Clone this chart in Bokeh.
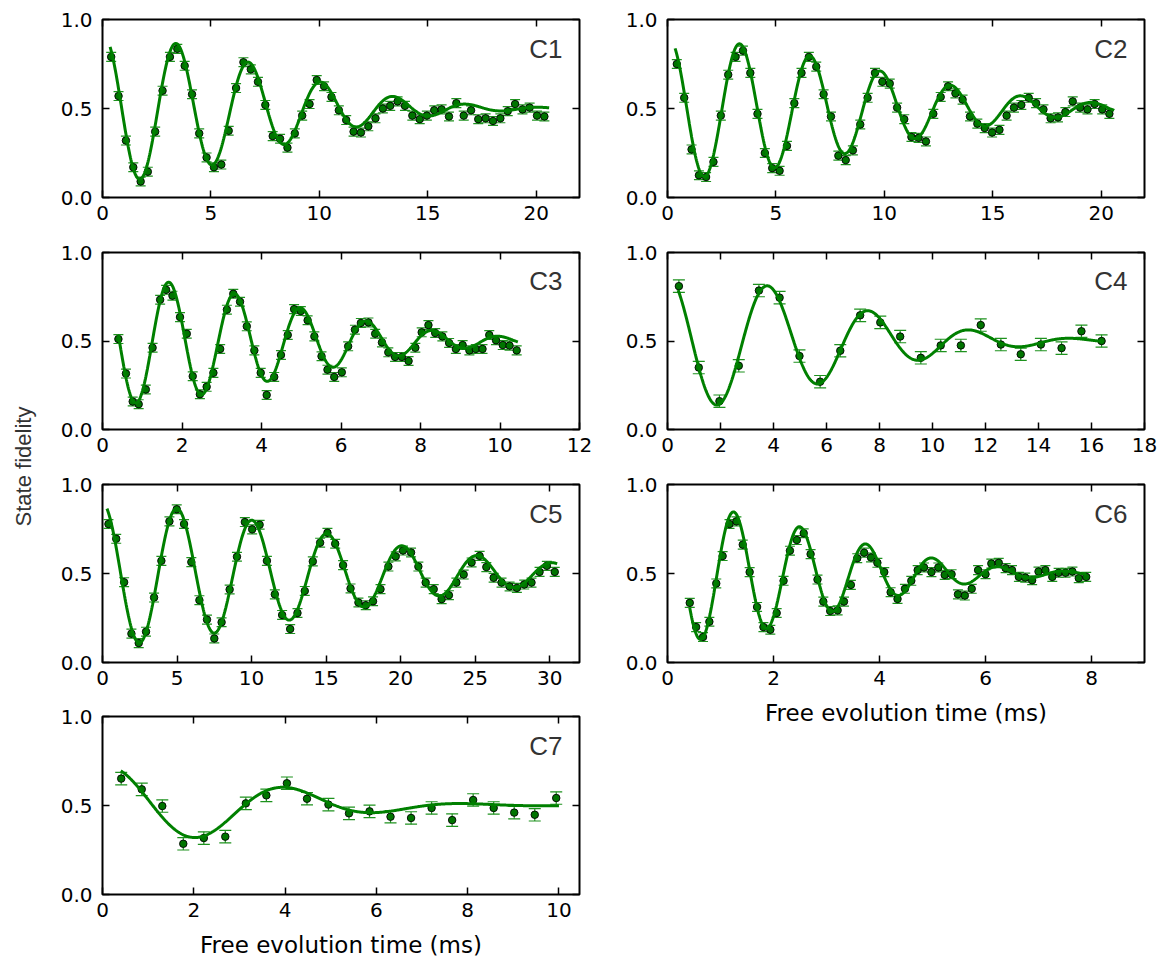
import numpy as np
from bokeh.plotting import figure
from bokeh.models import (ColumnDataSource, Whisker, TeeHead, LinearAxis, FixedTicker,
                          Range1d, Label, NumeralTickFormatter)
from bokeh.layouts import row, column
from bokeh.embed import file_html
from bokeh.resources import INLINE

# ---------------- data ----------------
t_c1 = [0.40, 0.74, 1.08, 1.42, 1.76, 2.09, 2.43, 2.77, 3.11, 3.45, 3.79, 4.13, 4.46, 4.80, 5.14,
        5.48, 5.82, 6.16, 6.50, 6.84, 7.17, 7.51, 7.85, 8.19, 8.53, 8.87, 9.21, 9.55, 9.88, 10.22,
        10.56, 10.90, 11.24, 11.58, 11.92, 12.26, 12.59, 12.93, 13.27, 13.61, 13.95, 14.29, 14.63,
        14.96, 15.30, 15.64, 15.98, 16.32, 16.66, 17.00, 17.33, 17.67, 18.01, 18.35, 18.69, 19.03,
        19.37, 19.70, 20.04, 20.38]
y_c1 = [0.79, 0.57, 0.32, 0.17, 0.09, 0.145, 0.37, 0.60, 0.79, 0.835, 0.74, 0.58, 0.36, 0.225, 0.17,
        0.185, 0.375, 0.615, 0.76, 0.72, 0.65, 0.52, 0.345, 0.33, 0.28, 0.36, 0.46, 0.525, 0.66, 0.625,
        0.565, 0.49, 0.435, 0.37, 0.365, 0.40, 0.445, 0.50, 0.515, 0.54, 0.515, 0.46, 0.44,
        0.46, 0.49, 0.495, 0.455, 0.53, 0.46, 0.49, 0.44, 0.445, 0.43, 0.445, 0.485, 0.525,
        0.495, 0.505, 0.46, 0.455]

t_c2 = [0.43, 0.77, 1.11, 1.45, 1.78, 2.12, 2.46, 2.80, 3.14, 3.48, 3.82, 4.15, 4.49, 4.83, 5.17,
        5.51, 5.85, 6.18, 6.52, 6.86, 7.20, 7.54, 7.88, 8.22, 8.55, 8.89, 9.23, 9.57, 9.91, 10.25,
        10.59, 10.92, 11.25, 11.58, 11.92, 12.26, 12.60, 12.94, 13.28, 13.61, 13.95, 14.29, 14.63,
        14.97, 15.31, 15.64, 15.98, 16.32, 16.66, 17.00, 17.34, 17.67, 18.01, 18.35, 18.69, 19.03,
        19.37, 19.70, 20.05, 20.38]
y_c2 = [0.75, 0.56, 0.27, 0.125, 0.115, 0.20, 0.46, 0.69, 0.79, 0.825, 0.70, 0.47, 0.25, 0.165, 0.15,
        0.29, 0.53, 0.70, 0.79, 0.735, 0.58, 0.455, 0.235, 0.21, 0.265, 0.41, 0.56, 0.70, 0.65, 0.64,
        0.505, 0.44, 0.34, 0.335, 0.315, 0.47, 0.565, 0.625, 0.585, 0.55, 0.455, 0.415, 0.39,
        0.365, 0.38, 0.46, 0.505, 0.52, 0.56, 0.53, 0.495, 0.445, 0.45, 0.48, 0.54, 0.505,
        0.495, 0.525, 0.495, 0.47]

t_c3 = [0.40, 0.59, 0.76, 0.91, 1.09, 1.26, 1.45, 1.60, 1.76, 1.95, 2.12, 2.27, 2.45, 2.62, 2.79,
        2.96, 3.13, 3.29, 3.46, 3.63, 3.82, 3.98, 4.13, 4.32, 4.49, 4.66, 4.82, 4.99, 5.16, 5.33,
        5.51, 5.66, 5.83, 6.02, 6.18, 6.35, 6.50, 6.69, 6.86, 7.03, 7.19, 7.36, 7.53, 7.70, 7.87,
        8.03, 8.20, 8.37, 8.55, 8.72, 8.89, 9.06, 9.23, 9.39, 9.56, 9.73, 9.90, 10.07, 10.24, 10.42]
y_c3 = [0.511, 0.316, 0.158, 0.143, 0.226, 0.462, 0.733, 0.789, 0.756, 0.635, 0.541, 0.301, 0.199,
        0.241, 0.32, 0.455, 0.677, 0.767, 0.722, 0.583, 0.447, 0.32, 0.195, 0.297, 0.421, 0.534,
        0.68, 0.669, 0.617, 0.526, 0.414, 0.338, 0.297, 0.323, 0.47, 0.564, 0.602, 0.605, 0.541,
        0.492, 0.436, 0.41, 0.41, 0.387, 0.462, 0.549, 0.59, 0.545, 0.526, 0.489, 0.455, 0.477,
        0.447, 0.455, 0.455, 0.534, 0.504, 0.477, 0.474, 0.447]

t_c4 = [0.43, 1.18, 1.96, 2.69, 3.45, 4.23, 4.98, 5.76, 6.52, 7.27, 8.03, 8.78, 9.56, 10.31, 11.07,
        11.82, 12.58, 13.33, 14.09, 14.87, 15.62, 16.38]
y_c4 = [0.81, 0.35, 0.16, 0.36, 0.785, 0.745, 0.415, 0.27, 0.445, 0.645, 0.605, 0.525, 0.405, 0.475,
        0.475, 0.59, 0.48, 0.425, 0.48, 0.46, 0.555, 0.50]

t_c5 = [0.40, 0.92, 1.45, 1.94, 2.43, 2.92, 3.46, 3.95, 4.49, 4.98, 5.47, 5.96, 6.50, 7.01, 7.50,
        7.99, 8.53, 9.02, 9.55, 10.04, 10.54, 11.03, 11.56, 12.05, 12.59, 13.08, 13.57, 14.11, 14.60,
        15.09, 15.61, 16.14, 16.64, 17.17, 17.66, 18.15, 18.65, 19.18, 19.67, 20.16, 20.70, 21.19,
        21.68, 22.22, 22.75, 23.24, 23.74, 24.23, 24.76, 25.30, 25.75, 26.24, 26.77, 27.31, 27.80,
        28.29, 28.78, 29.32, 29.81, 30.34]
y_c5 = [0.778, 0.695, 0.451, 0.162, 0.109, 0.173, 0.365, 0.571, 0.793, 0.861, 0.778, 0.564, 0.35,
        0.241, 0.135, 0.226, 0.41, 0.594, 0.789, 0.748, 0.774, 0.571, 0.383, 0.267, 0.188, 0.278,
        0.402, 0.568, 0.673, 0.729, 0.667, 0.547, 0.416, 0.337, 0.322, 0.344, 0.412, 0.539, 0.596,
        0.629, 0.618, 0.539, 0.449, 0.412, 0.356, 0.378, 0.449, 0.494, 0.562, 0.599, 0.536, 0.476,
        0.449, 0.427, 0.419, 0.438, 0.449, 0.509, 0.543, 0.509]

t_c6 = [0.42, 0.54, 0.67, 0.79, 0.92, 1.04, 1.17, 1.30, 1.42, 1.55, 1.69, 1.81, 1.94, 2.06, 2.19,
        2.31, 2.44, 2.57, 2.70, 2.83, 2.94, 3.07, 3.21, 3.33, 3.46, 3.58, 3.71, 3.84, 3.96, 4.09,
        4.21, 4.34, 4.48, 4.60, 4.72, 4.84, 4.98, 5.11, 5.23, 5.36, 5.48, 5.61, 5.74, 5.86, 6.00,
        6.11, 6.25, 6.38, 6.50, 6.63, 6.75, 6.88, 7.00, 7.13, 7.26, 7.38, 7.51, 7.64, 7.76, 7.90]
y_c6 = [0.335, 0.199, 0.143, 0.229, 0.444, 0.598, 0.778, 0.793, 0.662, 0.508, 0.312, 0.199, 0.184,
        0.278, 0.459, 0.628, 0.688, 0.726, 0.609, 0.466, 0.342, 0.289, 0.293, 0.342, 0.436, 0.586,
        0.617, 0.59, 0.56, 0.508, 0.395, 0.357, 0.414, 0.459, 0.519, 0.534, 0.508, 0.534, 0.492,
        0.496, 0.383, 0.376, 0.414, 0.519, 0.496, 0.556, 0.56, 0.53, 0.519, 0.481, 0.477, 0.462,
        0.511, 0.519, 0.481, 0.504, 0.504, 0.511, 0.474, 0.481]

t_c7 = [0.41, 0.86, 1.31, 1.77, 2.22, 2.69, 3.14, 3.59, 4.04, 4.48, 4.95, 5.40, 5.85, 6.31, 6.76,
        7.21, 7.66, 8.12, 8.57, 9.02, 9.47, 9.94]
y_c7 = [0.651, 0.591, 0.497, 0.285, 0.317, 0.325, 0.512, 0.557, 0.625, 0.538, 0.505, 0.456, 0.467,
        0.437, 0.43, 0.486, 0.418, 0.531, 0.486, 0.46, 0.448, 0.542]

# error-bar half widths per panel
err_c = {"C1": 0.025, "C2": 0.025, "C3": 0.025, "C4": 0.035, "C5": 0.025, "C6": 0.025, "C7": 0.035}

# fitted damped-oscillation parameters: offset, amplitude, decay time, decay power,
# frequency (1/ms), time of a maximum, fit start, fit end
fit_c1 = [0.5, 0.41, 10.0, 2.0, 0.2985, 3.40, 0.35, 20.6]
fit_c2 = [0.5, 0.39, 12.5, 2.0, 0.3077, 3.33, 0.35, 20.6]
fit_c3 = [0.5, 0.357, 6.2, 2.0, 0.6024, 1.67, 0.40, 10.45]
fit_c4 = [0.5, 0.38, 8.5, 2.0, 0.261, 3.80, 0.40, 16.45]
fit_c5 = [0.5, 0.40, 20.8, 1.7, 0.1984, 5.00, 0.30, 30.5]
fit_c6 = [0.5, 0.379, 4.12, 2.0, 0.80, 1.25, 0.42, 7.9]
fit_c7 = [0.5, 0.22, 4.6, 2.0, 0.25, 4.10, 0.40, 10.0]

# axes
xmax = {"C1": 22, "C2": 22, "C3": 12, "C4": 18, "C5": 32, "C6": 9, "C7": 10.45}
xticks = {"C1": [0, 5, 10, 15, 20], "C2": [0, 5, 10, 15, 20], "C3": [0, 2, 4, 6, 8, 10, 12],
          "C4": [0, 2, 4, 6, 8, 10, 12, 14, 16, 18], "C5": [0, 5, 10, 15, 20, 25, 30],
          "C6": [0, 2, 4, 6, 8], "C7": [0, 2, 4, 6, 8, 10]}
yticks = [0, 0.5, 1.0]

XLABEL = "Free evolution time (ms)"
YLABEL = "State fidelity"

GREEN = "#008000"
ERR_GREEN = "#1e921e"
DOT_FILL = "#007400"
TICK_FONT = "DejaVu Sans"

FRAME_W = 477


def panel(name, t, y, fit, width, height, bl, br, bt, bb, xlabel=None):
    xm = xmax[name]
    p = figure(width=width, height=height, x_range=Range1d(0, xm), y_range=Range1d(0, 1),
               output_backend="svg", toolbar_location=None,
               min_border_left=bl, min_border_right=br, min_border_top=bt, min_border_bottom=bb)
    p.background_fill_color = "white"
    p.border_fill_color = "white"
    p.grid.visible = False
    p.outline_line_color = "black"
    p.outline_line_width = 2

    bottom = p.below[0]
    left = p.left[0]
    bottom.ticker = FixedTicker(ticks=xticks[name])
    left.ticker = FixedTicker(ticks=yticks)
    left.formatter = NumeralTickFormatter(format="0.0")
    top = LinearAxis(ticker=FixedTicker(ticks=xticks[name]))
    right = LinearAxis(ticker=FixedTicker(ticks=yticks))
    p.add_layout(top, "above")
    p.add_layout(right, "right")
    for ax in [bottom, left, top, right]:
        ax.axis_line_color = None
        ax.major_tick_in = 7
        ax.major_tick_out = 0
        ax.major_tick_line_color = "black"
        ax.major_tick_line_width = 1.5
        ax.minor_tick_line_color = None
        ax.major_label_text_font = TICK_FONT
        ax.major_label_text_font_size = "20px"
        ax.major_label_text_color = "black"
    # mirrored tick marks only: labels not painted
    for ax in [top, right]:
        ax.major_label_text_font_size = "1px"
        ax.major_label_text_color = None
        ax.major_label_standoff = 0
    bottom.major_label_standoff = 8
    left.major_label_standoff = 10
    if xlabel:
        bottom.axis_label = xlabel
        bottom.axis_label_text_font = TICK_FONT
        bottom.axis_label_text_font_size = "23px"
        bottom.axis_label_text_font_style = "normal"
        bottom.axis_label_text_color = "black"
        bottom.axis_label_standoff = 12

    err = err_c[name]
    cap = 10 if err < 0.03 else 12
    src = ColumnDataSource(dict(t=t, y=y,
                                lo=[v - err for v in y], hi=[v + err for v in y]))
    wh = Whisker(base="t", lower="lo", upper="hi", source=src, dimension="height",
                 line_color=ERR_GREEN, line_width=1.2,
                 upper_head=TeeHead(size=cap, line_color=ERR_GREEN, line_width=1.2),
                 lower_head=TeeHead(size=cap, line_color=ERR_GREEN, line_width=1.2))
    p.add_layout(wh)
    p.scatter("t", "y", source=src, size=7.5, fill_color=DOT_FILL, line_color="black",
              line_width=0.9)

    c, A, T, pw, f, t0, ts, te = fit
    tt = np.linspace(ts, te, 800)
    yy = c + A * np.exp(-(tt / T) ** pw) * np.cos(2 * np.pi * f * (tt - t0))
    p.line(tt, yy, line_color=GREEN, line_width=3)

    px_per_unit = FRAME_W / xm
    p.add_layout(Label(x=xm - 17 / px_per_unit, y=1 - 29 / 178, text=name,
                       text_align="right", text_baseline="middle",
                       text_font_size="26px", text_font="Liberation Sans",
                       text_color="#333333"))
    return p


LW = 564   # left column figure width
RW = 562   # right column figure width
c1 = panel("C1", t_c1, y_c1, fit_c1, LW, 232, 57, 30, 19, 35)
c3 = panel("C3", t_c3, y_c3, fit_c3, LW, 232, 57, 30, 20, 35)
c5 = panel("C5", t_c5, y_c5, fit_c5, LW, 232, 57, 30, 20, 34)
c7 = panel("C7", t_c7, y_c7, fit_c7, LW, 268, 57, 30, 20, 70, xlabel=XLABEL)

c2 = panel("C2", t_c2, y_c2, fit_c2, RW, 232, 58, 27, 19, 35)
c4 = panel("C4", t_c4, y_c4, fit_c4, RW, 232, 58, 27, 20, 35)
c6 = panel("C6", t_c6, y_c6, fit_c6, RW, 268, 58, 27, 20, 70, xlabel=XLABEL)

# narrow strip carrying the shared y-axis label
lab = figure(width=45, height=964, x_range=Range1d(0, 45), y_range=Range1d(0, 964),
             output_backend="svg", toolbar_location=None, x_axis_type=None, y_axis_type=None,
             min_border=0)
lab.outline_line_color = None
lab.grid.visible = False
lab.add_layout(Label(x=23, y=964 - 466, text=YLABEL, angle=np.pi / 2, text_align="center",
                     text_baseline="middle", text_font_size="22px",
                     text_font="Liberation Sans", text_color="#333333"))

layout = row(lab, column(c1, c3, c5, c7), column(c2, c4, c6))

with open("out.html", "w") as fh:
    fh.write(file_html(layout, INLINE))
